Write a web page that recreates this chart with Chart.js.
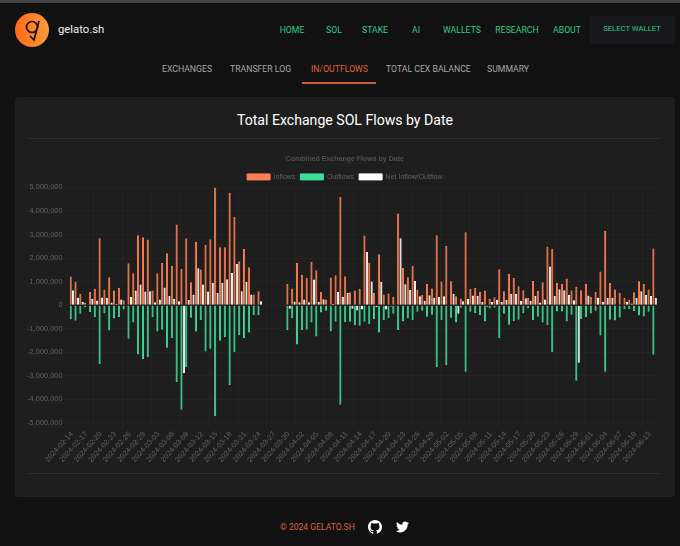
<!DOCTYPE html>
<html><head><meta charset="utf-8">
<script src="https://cdn.jsdelivr.net/npm/chart.js@4"></script>
<style>
html,body{margin:0;padding:0;width:680px;height:546px;overflow:hidden;background:#111;font-family:Roboto,"Liberation Sans",sans-serif}
.t{position:absolute;white-space:nowrap;line-height:12px}
.n{color:#2ecc8a;font-size:8.7px;top:24px;transform:translateX(-50%)}
.s{color:#a8a8a8;font-size:8.7px;top:63px}
#strip{position:absolute;left:0;top:0;width:680px;height:3px;background:#444}
#wallet{position:absolute;left:590px;top:16px;width:85px;height:28px;background:#16181c;border-radius:2px}
#card{position:absolute;left:15px;top:97px;width:660px;height:400px;background:#1e1e1e;border-radius:3px}
.hr{position:absolute;left:27px;width:634px;height:1px;background:#2d2d2d}
#wrap{position:absolute;left:24px;top:148px;width:640px;height:317px}
</style></head><body>
<div id="strip"></div>
<svg style="position:absolute;left:15px;top:13px" width="34" height="34" viewBox="0 0 34 34">
<defs><linearGradient id="g" x1="0" x2="1" y1="0.5" y2="0.5"><stop offset="0" stop-color="#ff6a13"/><stop offset="1" stop-color="#ff9a3c"/></linearGradient></defs>
<circle cx="17" cy="17" r="17" fill="url(#g)"/>
<circle cx="17" cy="14" r="5.5" fill="none" stroke="#1a1208" stroke-width="1.7"/>
<path d="M24 8 L19 27 L15 23" fill="none" stroke="#1a1208" stroke-width="1.7"/></svg>
<span class="t" style="left:58px;top:24px;color:#eee;font-size:11.3px">gelato.sh</span>
<span class="t n" style="left:292px">HOME</span>
<span class="t n" style="left:334px">SOL</span>
<span class="t n" style="left:375px">STAKE</span>
<span class="t n" style="left:416px">AI</span>
<span class="t n" style="left:462px">WALLETS</span>
<span class="t n" style="left:517px">RESEARCH</span>
<span class="t n" style="left:567px">ABOUT</span>
<div id="wallet"></div>
<span class="t n" style="left:632px;top:23px;font-size:7.7px;font-weight:400">SELECT WALLET</span>
<span class="t s" style="left:162px">EXCHANGES</span>
<span class="t s" style="left:230px">TRANSFER LOG</span>
<span class="t s" style="left:311px;color:#e0643c">IN/OUTFLOWS</span>
<div style="position:absolute;left:302px;top:82px;width:74px;height:2px;background:#c8603c"></div>
<span class="t s" style="left:386px">TOTAL CEX BALANCE</span>
<span class="t s" style="left:487px">SUMMARY</span>
<div id="card"></div>
<span class="t" style="left:345px;top:112px;transform:translateX(-50%);color:#fff;font-size:14.1px;line-height:16px">Total Exchange SOL Flows by Date</span>
<div class="hr" style="top:138px"></div>
<div class="hr" style="top:473px"></div>
<div id="wrap"><canvas id="c" width="640" height="317"></canvas></div>
<span class="t" style="left:280px;top:521px;color:#d9633a;font-size:8.6px">© 2024 GELATO.SH</span>
<svg style="position:absolute;left:368px;top:520px" width="14" height="14" viewBox="0 0 16 16"><path fill="#fff" d="M8 0C3.58 0 0 3.58 0 8c0 3.54 2.29 6.53 5.47 7.59.4.07.55-.17.55-.38 0-.19-.01-.82-.01-1.49-2.01.37-2.53-.49-2.69-.94-.09-.23-.48-.94-.82-1.13-.28-.15-.68-.52-.01-.53.63-.01 1.08.58 1.23.82.72 1.21 1.87.87 2.33.66.07-.52.28-.87.51-1.07-1.78-.2-3.64-.89-3.64-3.95 0-.87.31-1.59.82-2.15-.08-.2-.36-1.02.08-2.12 0 0 .67-.21 2.2.82.64-.18 1.32-.27 2-.27s1.36.09 2 .27c1.53-1.04 2.2-.82 2.2-.82.44 1.1.16 1.92.08 2.12.51.56.82 1.27.82 2.15 0 3.07-1.87 3.75-3.65 3.95.29.25.54.73.54 1.48 0 1.07-.01 1.93-.01 2.2 0 .21.15.46.55.38A8.01 8.01 0 0 0 16 8c0-4.42-3.58-8-8-8z"/></svg>
<svg style="position:absolute;left:396px;top:521px" width="13" height="12" viewBox="0 0 24 20"><path fill="#fff" d="M24 2.4c-.9.4-1.8.7-2.8.8 1-.6 1.8-1.6 2.2-2.7-1 .6-2 1-3.1 1.2C19.4.7 18.1 0 16.6 0c-2.7 0-4.9 2.2-4.9 4.9 0 .4 0 .8.1 1.1C7.7 5.8 4.1 3.9 1.7.9 1.2 1.6 1 2.5 1 3.4c0 1.7.9 3.2 2.2 4.1-.8 0-1.6-.2-2.2-.6v.1c0 2.4 1.7 4.4 3.9 4.8-.4.1-.8.2-1.3.2-.3 0-.6 0-.9-.1.6 2 2.4 3.4 4.6 3.4-1.7 1.3-3.8 2.1-6.1 2.1-.4 0-.8 0-1.2-.1C2.2 19.2 4.8 20 7.5 20c9.1 0 14-7.5 14-14v-.6c1-.7 1.8-1.6 2.5-3z"/></svg>
<script>
const dates=["2024-02-14","2024-02-15","2024-02-16","2024-02-17","2024-02-18","2024-02-19","2024-02-20","2024-02-21","2024-02-22","2024-02-23","2024-02-24","2024-02-25","2024-02-26","2024-02-27","2024-02-28","2024-02-29",
"2024-03-01","2024-03-02","2024-03-03","2024-03-04","2024-03-05","2024-03-06","2024-03-07","2024-03-08","2024-03-09","2024-03-10","2024-03-11","2024-03-12","2024-03-13","2024-03-14","2024-03-15","2024-03-16","2024-03-17","2024-03-18","2024-03-19","2024-03-20","2024-03-21","2024-03-22","2024-03-23","2024-03-24","2024-03-25","2024-03-26","2024-03-27","2024-03-28","2024-03-29","2024-03-30","2024-03-31",
"2024-04-01","2024-04-02","2024-04-03","2024-04-04","2024-04-05","2024-04-06","2024-04-07","2024-04-08","2024-04-09","2024-04-10","2024-04-11","2024-04-12","2024-04-13","2024-04-14","2024-04-15","2024-04-16","2024-04-17","2024-04-18","2024-04-19","2024-04-20","2024-04-21","2024-04-22","2024-04-23","2024-04-24","2024-04-25","2024-04-26","2024-04-27","2024-04-28","2024-04-29","2024-04-30",
"2024-05-01","2024-05-02","2024-05-03","2024-05-04","2024-05-05","2024-05-06","2024-05-07","2024-05-08","2024-05-09","2024-05-10","2024-05-11","2024-05-12","2024-05-13","2024-05-14","2024-05-15","2024-05-16","2024-05-17","2024-05-18","2024-05-19","2024-05-20","2024-05-21","2024-05-22","2024-05-23","2024-05-24","2024-05-25","2024-05-26","2024-05-27","2024-05-28","2024-05-29","2024-05-30","2024-05-31",
"2024-06-01","2024-06-02","2024-06-03","2024-06-04","2024-06-05","2024-06-06","2024-06-07","2024-06-08","2024-06-09","2024-06-10","2024-06-11","2024-06-12","2024-06-13","2024-06-14"];
const inflows=[1220000,980000,490000,110000,560000,700000,2840000,660000,1190000,620000,740000,210000,1780000,1360000,2970000,2880000,2790000,620000,1360000,1790000,2200000,1670000,3430000,1550000,2840000,970000,2690000,1510000,2550000,2800000,5000000,2460000,2460000,4770000,3750000,1860000,2380000,1610000,450000,590000,
null,null,null,null,null,
900000,710000,1790000,1290000,1160000,1830000,1480000,560000,240000,1180000,1270000,4590000,1230000,550000,620000,690000,2960000,1810000,520000,2160000,450000,500000,350000,3890000,1580000,1190000,1670000,660000,430000,910000,710000,2970000,1010000,2510000,1020000,380000,
280000,3100000,690000,730000,570000,620000,270000,340000,1530000,590000,1320000,1160000,800000,630000,320000,1040000,600000,970000,2490000,2390000,950000,900000,1130000,620000,770000,630000,910000,350000,560000,1430000,3150000,940000,670000,520000,320000,240000,550000,1020000,910000,670000,2410000];
const outflows=[-590000,-660000,-360000,-100000,-290000,-500000,-2510000,-340000,-1080000,-570000,-500000,-180000,-1430000,-740000,-2090000,-2300000,-2200000,-500000,-1120000,-1040000,-1810000,-1400000,-3260000,-4440000,-2620000,-530000,-1120000,-630000,-1970000,-1850000,-4720000,-1510000,-1360000,-3400000,-2000000,-1270000,-1400000,-1160000,-420000,-420000,
null,null,null,null,null,
-1050000,-550000,-1670000,-1050000,-1040000,-740000,-1330000,-310000,-240000,-1120000,-700000,-4230000,-710000,-700000,-850000,-870000,-700000,-800000,-600000,-1160000,-630000,-560000,-360000,-1050000,-690000,-550000,-640000,-280000,-240000,-490000,-410000,-2620000,-630000,-2540000,-530000,-740000,
-110000,-2830000,-280000,-340000,-420000,-690000,-140000,-110000,-1400000,-360000,-830000,-670000,-620000,-340000,-130000,-640000,-490000,-730000,-850000,-2000000,-270000,-270000,-690000,-410000,-3210000,-600000,-500000,-350000,-240000,-1290000,-2830000,-620000,-650000,-520000,-170000,-170000,-250000,-430000,-480000,-280000,-2100000];
const net=[630000,320000,130000,10000,270000,200000,330000,320000,110000,50000,240000,30000,350000,620000,880000,580000,590000,120000,240000,750000,390000,270000,170000,-2890000,220000,440000,1570000,880000,580000,950000,520000,950000,1100000,1370000,1750000,590000,980000,450000,30000,170000,
null,null,null,null,null,
-150000,160000,120000,240000,120000,1090000,150000,250000,0,60000,570000,360000,520000,-150000,-230000,-180000,2260000,1010000,-80000,1000000,-180000,-60000,-10000,2840000,890000,640000,1030000,380000,190000,420000,300000,350000,380000,-30000,490000,-360000,
170000,270000,410000,390000,150000,-70000,130000,230000,130000,230000,490000,490000,180000,290000,190000,400000,110000,240000,1640000,390000,680000,630000,440000,210000,-2440000,30000,410000,0,320000,140000,320000,320000,20000,0,150000,70000,300000,590000,430000,390000,310000];
const seriesNames=["Inflows","Outflows","Net Inflow/Outflow"];
const yTicks={min:-5000000,max:5000000,step:1000000};
const muted="#636363";
const inColor="#ff7f50", outColor="#3ddc97", netColor="#ffffff";
Chart.defaults.font.family='"Liberation Sans",Arial,sans-serif';
Chart.defaults.font.size=7;
Chart.defaults.color=muted;
const legendTrim={id:"legendTrim",beforeInit(chart){const f=chart.legend.fit;chart.legend.fit=function(){f.call(this);this.height-=3;};}};
new Chart(document.getElementById("c"),{
 type:"bar",
 plugins:[legendTrim],
 data:{labels:dates,datasets:[
  {label:seriesNames[0],data:inflows,stack:"flows",backgroundColor:inColor,borderColor:inColor,borderWidth:1,categoryPercentage:1,barPercentage:.9},
  {label:seriesNames[1],data:outflows,stack:"flows",backgroundColor:outColor,borderColor:outColor,borderWidth:1,categoryPercentage:1,barPercentage:.9},
  {label:seriesNames[2],data:net,stack:"net",backgroundColor:netColor,borderColor:netColor,borderWidth:1,categoryPercentage:1,barPercentage:.9}
 ]},
 options:{responsive:false,animation:false,devicePixelRatio:1,
  layout:{padding:{left:1.5,right:0,top:4,bottom:0}},
  plugins:{
   title:{display:true,text:"Combined Exchange Flows by Date",color:"#4f4f4f",font:{size:7,weight:"bold"},padding:{top:3,bottom:5}},
   legend:{labels:{boxWidth:23,boxHeight:6,color:muted,font:{size:7},padding:5}},
   tooltip:{enabled:false}
  },
  scales:{
   x:{stacked:true,grid:{color:"rgba(255,255,255,0.025)",tickLength:6},border:{display:false},
      ticks:{color:muted,autoSkip:true,autoSkipPadding:0,maxTicksLimit:41,maxRotation:48,minRotation:48,font:{size:7.4},padding:1}},
   y:{stacked:true,min:yTicks.min,max:yTicks.max,grid:{color:"rgba(255,255,255,0.025)",tickLength:6},border:{display:false},
      afterFit(s){s.width=44;},
      ticks:{color:muted,stepSize:yTicks.step,font:{size:7.4},padding:1,callback:v=>Number(v).toLocaleString("en-US")}},
   rightGutter:{position:"right",min:yTicks.min,max:yTicks.max,grid:{display:false},border:{display:false},
      afterFit(s){s.width=7;},
      ticks:{display:false}}
  }
 }
});
</script>
</body></html>
